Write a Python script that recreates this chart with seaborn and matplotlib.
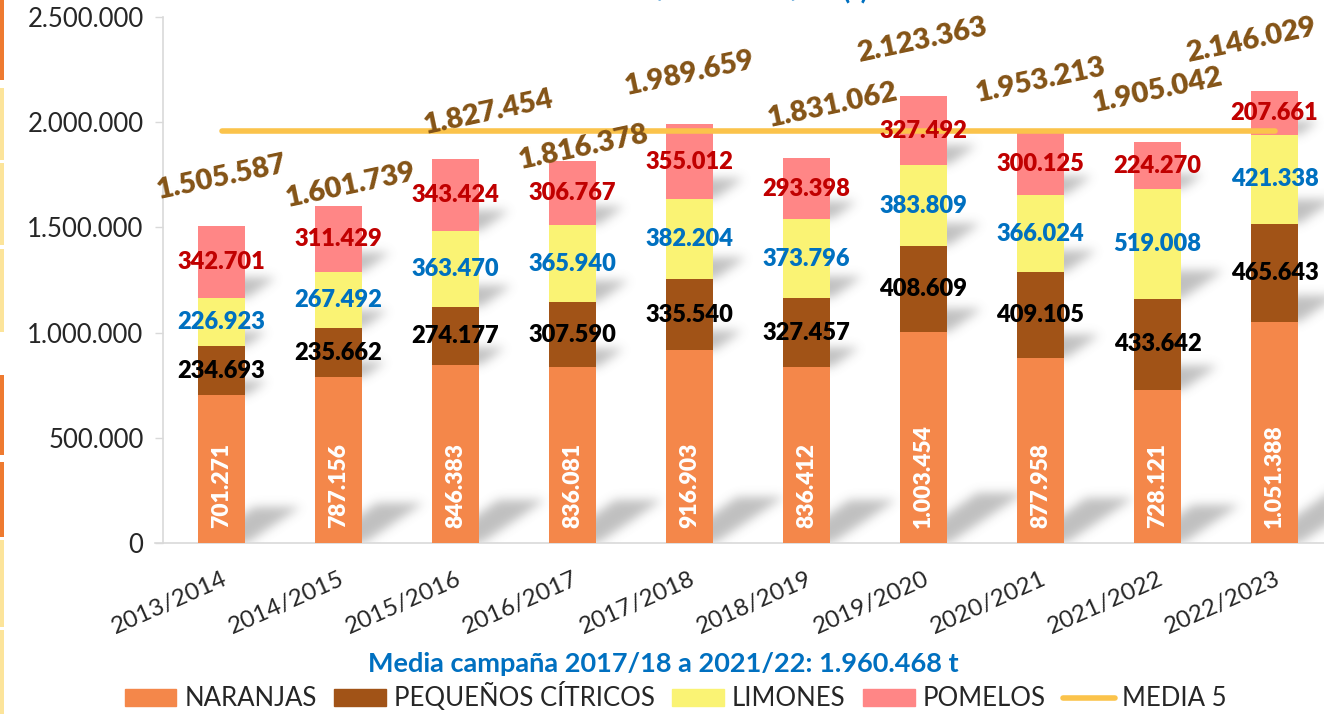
import numpy as np
import pandas as pd
import matplotlib
matplotlib.use("Agg")
import matplotlib.pyplot as plt
from matplotlib.patches import Rectangle, Patch
from matplotlib.lines import Line2D
from matplotlib.path import Path
from matplotlib.ticker import FuncFormatter
import seaborn as sns

# Data (t)
seasons = ["2013/2014", "2014/2015", "2015/2016", "2016/2017", "2017/2018",
           "2018/2019", "2019/2020", "2020/2021", "2021/2022", "2022/2023"]
naranjas = [701271, 787156, 846383, 836081, 916903, 836412, 1003454, 877958, 728121, 1051388]
pequenos = [234693, 235662, 274177, 307590, 335540, 327457, 408609, 409105, 433642, 465643]
limones = [226923, 267492, 363470, 365940, 382204, 373796, 383809, 366024, 519008, 421338]
pomelos = [342701, 311429, 343424, 306767, 355012, 293398, 327492, 300125, 224270, 207661]
totales = [1505587, 1601739, 1827454, 1816378, 1989659, 1831062, 2123363, 1953213, 1905042, 2146029]
media_5 = 1960468

# label nudges for the totals (points)
tot_dx = [0, 9, 24, 8, 0, 19, -1, 0, 0, -17]
tot_dy = [35, 15, 33, 10, 37, 38, 40, 37, 37, 37]

c_nar = "#F4874A"
c_peq = "#A15317"
c_lim = "#FAF374"
c_pom = "#FF8686"
c_med = "#FBC34B"
c_tot = "#845316"
c_blue = "#0070C0"
c_red = "#C00000"

df = pd.DataFrame({"campana": seasons, "nar": naranjas, "peq": pequenos,
                   "lim": limones, "pom": pomelos})
df["c1"] = df["nar"]
df["c2"] = df["c1"] + df["peq"]
df["c3"] = df["c2"] + df["lim"]
df["c4"] = df["c3"] + df["pom"]

sns.set_style("white")
plt.rcParams["font.family"] = ["Lato", "DejaVu Sans"]

W, H = 1324, 714
AX_W, AX_H = 1170, 526
fig = plt.figure(figsize=(W / 100, H / 100), dpi=100)
ax = fig.add_axes([163 / W, 171 / H, AX_W / W, AX_H / H])

# stacked bars drawn as overlapping cumulative bars
for col, color in [("c4", c_pom), ("c3", c_lim), ("c2", c_peq), ("c1", c_nar)]:
    sns.barplot(data=df, x="campana", y=col, color=color, width=0.4,
                saturation=1, ax=ax, zorder=3, linewidth=0)

ax.set_xlim(-0.5, 9.5)
ax.set_ylim(0, 2500000)

# soft perspective shadow (sheared, squashed copy of every segment, blurred)
ppx = AX_W / 10.0
ppy = AX_H / 2500000
mask = np.zeros((AX_H, AX_W))
gx, gy = np.meshgrid(np.arange(AX_W) + 0.5, np.arange(AX_H) + 0.5)
bounds = [(df["c1"] * 0, df["c1"]), (df["c1"], df["c2"]), (df["c2"], df["c3"]), (df["c3"], df["c4"])]
for lo, hi in bounds:
    for i in range(len(seasons)):
        y0 = lo[i] * ppy
        h = (hi[i] - lo[i]) * ppy
        xl = (i + 0.5 - 0.2) * ppx
        xr = (i + 0.5 + 0.2) * ppx
        sh = 0.34 * h + 6
        sq = 0.22 * h + 4
        verts = [(xl + 6, y0), (xr + 2, y0), (xr + sh, y0 + sq), (xl + sh, y0 + sq)]
        p = Path(verts)
        x_a, x_b = int(max(xl, 0)), int(min(xr + sh + 2, AX_W))
        y_a, y_b = int(max(y0 - 1, 0)), int(min(y0 + sq + 2, AX_H))
        sub = np.column_stack([gx[y_a:y_b, x_a:x_b].ravel(), gy[y_a:y_b, x_a:x_b].ravel()])
        inside = p.contains_points(sub).reshape(y_b - y_a, x_b - x_a)
        mask[y_a:y_b, x_a:x_b] = np.maximum(mask[y_a:y_b, x_a:x_b], inside * 1.0)

sig = 5.0
kx = np.arange(-15, 16)
kern = np.exp(-kx ** 2 / (2 * sig ** 2))
kern /= kern.sum()
blur = np.apply_along_axis(lambda r: np.convolve(r, kern, mode="same"), 1, mask)
blur = np.apply_along_axis(lambda c: np.convolve(c, kern, mode="same"), 0, blur)
rgba = np.zeros((AX_H, AX_W, 4))
rgba[..., :3] = 0.45
rgba[..., 3] = np.clip(blur, 0, 1) * 0.45
ax.imshow(rgba, extent=(-0.5, 9.5, 0, 2500000), origin="lower", aspect="auto",
          zorder=1, interpolation="bilinear")

# media line
sns.lineplot(x=np.arange(len(seasons)), y=[media_5] * len(seasons), ax=ax,
             color=c_med, linewidth=4, zorder=4, solid_capstyle="round")

# segment labels
lab_bold = dict(fontweight="heavy", fontsize=17, ha="center", va="center", zorder=6)
for i in range(len(seasons)):
    ax.annotate(f"{naranjas[i]:,}".replace(",", "."), (i, 0), xytext=(0, 11),
                textcoords="offset points", rotation=90, color="white",
                fontweight="heavy", fontsize=16.5, ha="center", va="bottom", zorder=6)
    ax.text(i, df["c1"][i] + pequenos[i] / 2, f"{pequenos[i]:,}".replace(",", "."),
            color="black", **lab_bold)
    ax.text(i, df["c2"][i] + limones[i] / 2, f"{limones[i]:,}".replace(",", "."),
            color=c_blue, **lab_bold)
    ax.text(i, df["c3"][i] + pomelos[i] / 2, f"{pomelos[i]:,}".replace(",", "."),
            color=c_red, **lab_bold)
    ax.annotate(f"{totales[i]:,}".replace(",", "."), (i, totales[i]),
                xytext=(tot_dx[i], tot_dy[i]), textcoords="offset points",
                rotation=12, color=c_tot, fontweight="heavy", fontsize=21,
                ha="center", va="center", zorder=7, annotation_clip=False)

# axes styling
ax.yaxis.set_major_formatter(FuncFormatter(lambda v, p: f"{int(v):,}".replace(",", ".")))
ax.set_yticks(np.arange(0, 2500001, 500000))
ax.tick_params(axis="y", length=6, width=1, color="#d9d9d9", labelsize=18.5,
               labelcolor="#262626", pad=8, left=True)
ax.tick_params(axis="x", length=0, labelsize=17.5, labelcolor="#262626", pad=18)
plt.setp(ax.get_xticklabels(), rotation=24, ha="right", va="top", rotation_mode="anchor")
ax.set_xlabel("")
ax.set_ylabel("")
for s in ["top", "right"]:
    ax.spines[s].set_visible(False)
for s in ["left", "bottom"]:
    ax.spines[s].set_color("#d9d9d9")
    ax.spines[s].set_linewidth(1.2)
ax.spines["bottom"].set_bounds(-0.5 - 8 / ppx, 9.5)

# title, cut at the top edge as in the source
fig.text(868 / W, 1 + 2 / H, "PRODUCCIÓN DE CÍTRICOS 2013/14 - 2022/23 (t)",
         ha="right", va="baseline", color=c_blue, fontweight="bold", fontsize=20)

fig.text(663 / W, 50 / H, "Media campaña 2017/18 a 2021/22: 1.960.468 t",
         ha="center", va="center", color=c_blue, fontweight="bold", fontsize=19.5)

handles = [Patch(color=c_nar), Patch(color=c_peq), Patch(color=c_lim), Patch(color=c_pom),
           Line2D([], [], color=c_med, linewidth=4, solid_capstyle="round")]
labels = ["NARANJAS", "PEQUEÑOS CÍTRICOS", "LIMONES", "POMELOS", "MEDIA 5"]
leg = fig.legend(handles, labels, loc="center", bbox_to_anchor=(676 / W, 17 / H),
                 ncol=5, frameon=False, fontsize=18.5, handlelength=2.0, handleheight=0.65,
                 handletextpad=0.3, columnspacing=0.7, labelcolor="#262626")

# decorative strips on the left edge
strips = [(0, 80, "#EE7A30"), (88, 160, "#FCE49A"), (163, 245, "#FCE49A"),
          (249, 332, "#FCE49A"), (375, 455, "#EE7A30"), (462, 537, "#EE7A30"),
          (540, 627, "#FCE49A"), (630, 714, "#FCE49A")]
for y0, y1, c in strips:
    fig.add_artist(Rectangle((0, 1 - y1 / H), 4 / W, (y1 - y0) / H,
                             transform=fig.transFigure, facecolor=c, edgecolor="none"))

fig.savefig("out.png", dpi=100)
